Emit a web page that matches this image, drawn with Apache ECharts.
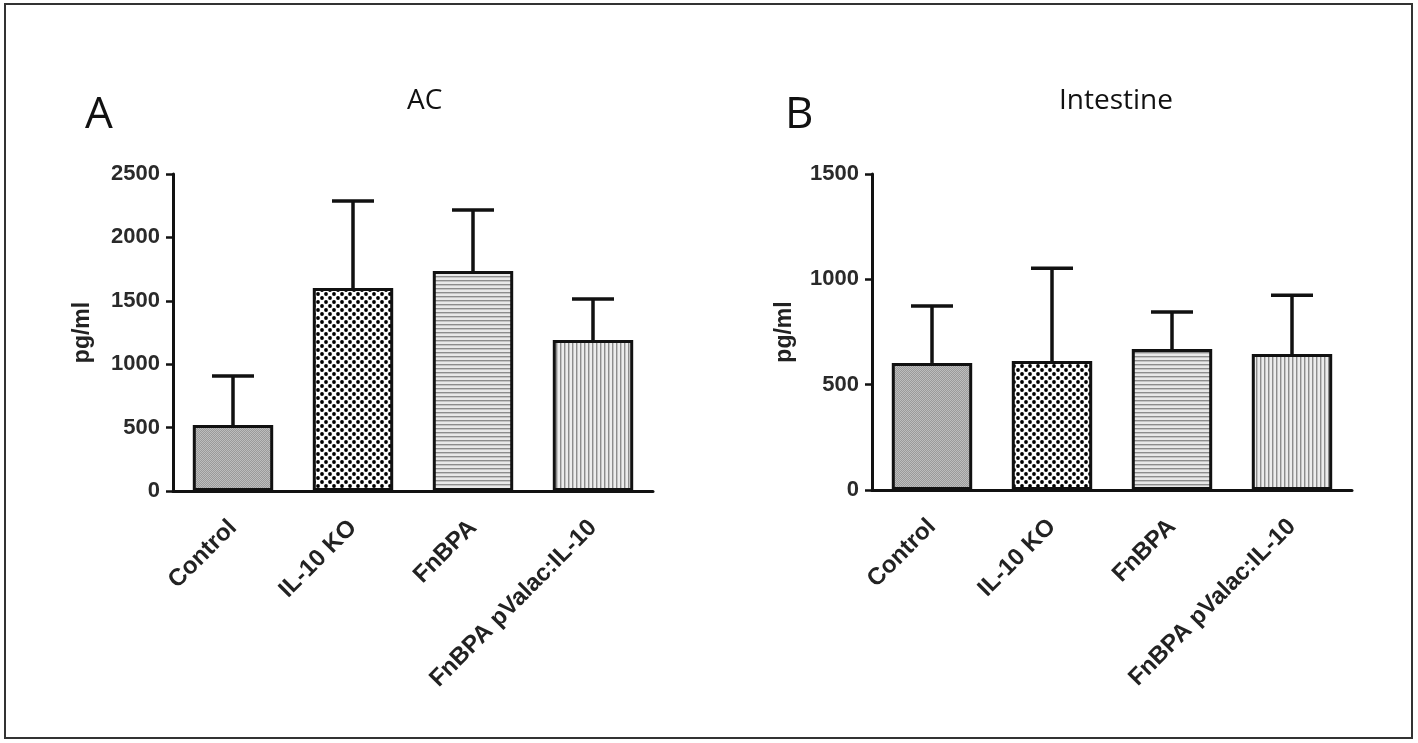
<!DOCTYPE html>
<html>
<head>
<meta charset="utf-8">
<script src="https://cdn.jsdelivr.net/npm/echarts@6/dist/echarts.min.js"></script>
<style>
  html, body { margin: 0; padding: 0; background: #fff; }
  #chart { width: 1418px; height: 743px; }
</style>
</head>
<body>
<div id="chart"></div>
<script>
// groups on the x axis (same for both panels)
var categories = ['Control', 'IL-10 KO', 'FnBPA', 'FnBPA pValac:IL-10'];

// panel A (AC), pg/ml: bar height and top of the error bar
var acMean  = [520, 1600, 1735, 1190];
var acUpper = [907, 2287, 2216, 1514];

// panel B (Intestine)
var intMean  = [603, 612, 669, 645];
var intUpper = [873, 1053, 845, 925];

// axis ticks
var acTicks  = [0, 500, 1000, 1500, 2000, 2500];
var intTicks = [0, 500, 1000, 1500];

// little canvas tiles used as bar fill patterns
function tile(w, h, draw) {
    var c = document.createElement('canvas');
    c.width = w; c.height = h;
    draw(c.getContext('2d'));
    return { image: c, repeat: 'repeat' };
}
var fills = [
    tile(2, 2, function (g) {           // fine grey checker
        g.fillStyle = '#9a9a9a'; g.fillRect(0, 0, 2, 2);
        g.fillStyle = '#bdbdbd'; g.fillRect(0, 0, 1, 1); g.fillRect(1, 1, 1, 1);
    }),
    tile(8, 8, function (g) {           // staggered black dots
        g.fillStyle = '#fff'; g.fillRect(0, 0, 8, 8);
        g.fillStyle = '#000';
        [[2, 2], [6, 6]].forEach(function (p) {
            g.beginPath(); g.arc(p[0], p[1], 1.9, 0, Math.PI * 2); g.fill();
        });
    }),
    tile(1, 4, function (g) {           // horizontal stripes
        g.fillStyle = '#e8e8e8'; g.fillRect(0, 0, 1, 4);
        g.fillStyle = '#8c8c8c'; g.fillRect(0, 0, 1, 1);
        g.fillStyle = '#c4c4c4'; g.fillRect(0, 1, 1, 1);
    }),
    tile(4, 1, function (g) {           // vertical stripes
        g.fillStyle = '#ececec'; g.fillRect(0, 0, 4, 1);
        g.fillStyle = '#8c8c8c'; g.fillRect(0, 0, 1, 1);
        g.fillStyle = '#c4c4c4'; g.fillRect(1, 0, 1, 1);
    })
];

var font = 'Liberation Sans';

function xAxisFor(idx) {
    return {
        type: 'category',
        gridIndex: idx,
        data: categories,
        axisLine: { lineStyle: { color: '#111', width: 3 } },
        axisTick: { alignWithLabel: true, length: 7, lineStyle: { color: '#111', width: 2.5 } },
        axisLabel: {
            rotate: 45, margin: 33, fontFamily: font, fontWeight: 'bold',
            fontSize: 24, color: '#222', interval: 0
        }
    };
}
function yAxisFor(idx, ticks, gap) {
    return {
        type: 'value',
        gridIndex: idx,
        min: ticks[0],
        max: ticks[ticks.length - 1],
        interval: ticks[1] - ticks[0],
        name: 'pg/ml',
        nameLocation: 'middle',
        nameGap: gap,
        nameTextStyle: { fontFamily: font, fontWeight: 'bold', fontSize: 23, color: '#222' },
        axisLine: { show: true, lineStyle: { color: '#111', width: 3 } },
        axisTick: { show: true, length: 7, lineStyle: { color: '#111', width: 2.5 } },
        splitLine: { show: false },
        axisLabel: {
            margin: 13, fontFamily: font, fontWeight: 'bold', fontSize: 22, color: '#2a2a2a',
            formatter: function (v) { return String(v); }
        }
    };
}
function barSeries(idx, values) {
    return {
        type: 'bar',
        xAxisIndex: idx,
        yAxisIndex: idx,
        barWidth: '67%',
        z: 3,
        data: values.map(function (v, i) {
            return { value: v, itemStyle: { color: fills[i] } };
        }),
        itemStyle: { borderColor: '#111', borderWidth: 3 }
    };
}
function errSeries(idx, mean, upper) {
    return {
        type: 'custom',
        xAxisIndex: idx,
        yAxisIndex: idx,
        z: 2,
        data: mean.map(function (m, i) { return [i, m, upper[i]]; }),
        renderItem: function (params, api) {
            var lo = api.coord([api.value(0), api.value(1)]);
            var hi = api.coord([api.value(0), api.value(2)]);
            var half = 21;
            var st = { stroke: '#111', lineWidth: 3.5 };
            return {
                type: 'group',
                children: [
                    { type: 'line', shape: { x1: lo[0], y1: lo[1], x2: hi[0], y2: hi[1] }, style: st },
                    { type: 'line', shape: { x1: hi[0] - half, y1: hi[1], x2: hi[0] + half, y2: hi[1] }, style: st }
                ]
            };
        }
    };
}

var chart = echarts.init(document.getElementById('chart'));
chart.setOption({
    backgroundColor: '#fff',
    animation: false,
    title: [
        { text: 'A', left: 80, top: 88, textStyle: { fontFamily: 'Open Sans', fontWeight: 'normal', fontSize: 44, color: '#111' } },
        { text: 'AC', left: 402, top: 82, textStyle: { fontFamily: 'Open Sans', fontWeight: 'normal', fontSize: 28, color: '#111' } },
        { text: 'B', left: 780, top: 88, textStyle: { fontFamily: 'Open Sans', fontWeight: 'normal', fontSize: 44, color: '#111' } },
        { text: 'Intestine', left: 1054, top: 82, textStyle: { fontFamily: 'Open Sans', fontWeight: 'normal', fontSize: 28, color: '#111' } }
    ],
    graphic: [{
        type: 'rect',
        shape: { x: 5, y: 4, width: 1407, height: 734 },
        style: { fill: null, stroke: '#333', lineWidth: 2 }
    }],
    grid: [
        { left: 173, right: 765, top: 174, bottom: 252 },
        { left: 872, right: 66, top: 174, bottom: 253 }
    ],
    xAxis: [xAxisFor(0), xAxisFor(1)],
    yAxis: [yAxisFor(0, acTicks, 79), yAxisFor(1, intTicks, 76)],
    series: [
        barSeries(0, acMean), errSeries(0, acMean, acUpper),
        barSeries(1, intMean), errSeries(1, intMean, intUpper)
    ]
});
</script>
</body>
</html>
